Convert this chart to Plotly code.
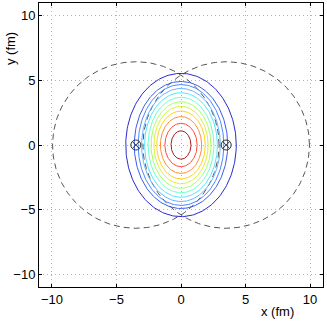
import numpy as np
import plotly.graph_objects as go

# contour levels, outermost first (semi-axes in fm)
level_ax = [4.28, 3.62, 3.32, 3.05, 2.82, 2.55, 2.32, 2.1, 1.88, 1.6, 1.25, 0.77]
level_by = [5.55, 4.92, 4.68, 4.38, 4.05, 3.7, 3.35, 3.0, 2.63, 2.2, 1.68, 1.1]
level_colors = ["#2a2ad0", "#3a5cf0", "#4c86ff", "#6ab4ff", "#55e4ff", "#70ffc8",
                "#a6ff70", "#d8f23c", "#ffd21e", "#ff8c3a", "#ff4a3a", "#a81c1c"]

# nuclei: centres and radius (fm)
nuc_x = [-3.5, 3.5]
nuc_y = [0.0, 0.0]
nuc_r = 6.45

ticks = [-10, -5, 0, 5, 10]

fig = go.Figure()
theta = np.linspace(0, 2 * np.pi, 241)

for cx in nuc_x:
    fig.add_trace(go.Scatter(
        x=cx + nuc_r * np.cos(theta), y=nuc_r * np.sin(theta),
        mode="lines", line=dict(color="#555555", width=1, dash="6px,4px"),
        hoverinfo="skip", showlegend=False))

for a, b, c in zip(level_ax, level_by, level_colors):
    fig.add_trace(go.Scatter(
        x=a * np.cos(theta), y=b * np.sin(theta),
        mode="lines", line=dict(color=c, width=1),
        hoverinfo="skip", showlegend=False))

fig.add_trace(go.Scatter(
    x=nuc_x, y=nuc_y, mode="markers",
    marker=dict(symbol="circle-x-open", size=10, color="#333333",
                line=dict(width=1, color="#333333")),
    showlegend=False))

axis = dict(range=[-11, 11], tickvals=ticks, showgrid=True,
            gridcolor="#b4b4b4", griddash="1px,3px", gridwidth=1,
            zeroline=False, showline=True, linecolor="black", linewidth=1,
            mirror="ticks", ticks="inside", ticklen=3, tickcolor="black",
            tickfont=dict(size=13, color="black"))

fig.update_layout(
    width=327, height=321,
    margin=dict(l=39, r=4, t=3, b=34),
    paper_bgcolor="white", plot_bgcolor="white",
    font=dict(family="Liberation Sans, Arial, sans-serif", size=13, color="black"),
    xaxis=axis,
    yaxis=axis,
    annotations=[
        dict(text="x (fm)", xref="paper", yref="paper", x=0.84, y=-0.088,
             xanchor="center", yanchor="middle", showarrow=False,
             font=dict(size=13)),
        dict(text="y (fm)", xref="paper", yref="paper", x=-0.1, y=0.84,
             xanchor="center", yanchor="middle", showarrow=False,
             textangle=-90, font=dict(size=13)),
    ],
)

fig.write_html("out.html", config={"displayModeBar": False},
               post_script="document.body.style.margin='0';")
